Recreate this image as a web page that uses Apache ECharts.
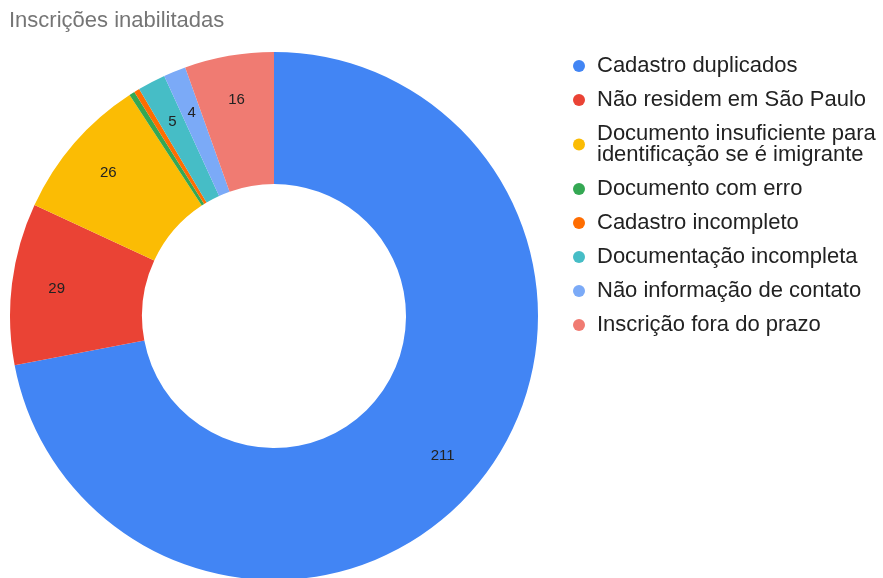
<!DOCTYPE html>
<html lang="pt">
<head>
<meta charset="UTF-8">
<title>Inscrições inabilitadas</title>
<script src="https://cdn.jsdelivr.net/npm/echarts@6/dist/echarts.min.js"></script>
<style>
  html, body { margin: 0; padding: 0; background: #fff; }
  #main { width: 883px; height: 578px; }
</style>
</head>
<body>
<div id="main"></div>
<script>
var categorias = [
  'Cadastro duplicados',
  'Não residem em São Paulo',
  'Documento insuficiente para\nidentificação se é imigrante',
  'Documento com erro',
  'Cadastro incompleto',
  'Documentação incompleta',
  'Não informação de contato',
  'Inscrição fora do prazo'
];
var valores = [211, 29, 26, 1, 1, 5, 4, 16];
var cores = ['#4285F4', '#EA4335', '#FBBC04', '#34A853', '#FF6D01', '#46BDC6', '#7BAAF7', '#F07B72'];

var dados = [];
for (var i = 0; i < categorias.length; i++) {
  dados.push({ name: categorias[i], value: valores[i], itemStyle: { color: cores[i] } });
}

var fonte = '"Liberation Sans", Arial, sans-serif';
var myChart = echarts.init(document.getElementById('main'));

var option = {
  animation: false,
  title: {
    text: 'Inscrições inabilitadas',
    left: 9,
    top: 10,
    padding: 0,
    textStyle: { color: '#757575', fontSize: 22, fontWeight: 'normal', fontFamily: fonte }
  },
  legend: {
    orient: 'vertical',
    left: 573,
    top: 55,
    padding: 0,
    icon: 'circle',
    itemWidth: 12,
    itemHeight: 12,
    itemGap: 12,
    data: categorias,
    textStyle: { color: '#222', fontSize: 22, lineHeight: 21, padding: [0, 0, 0, 7], fontFamily: fonte }
  },
  series: [{
    name: 'fatias',
    type: 'pie',
    center: [274, 316],
    radius: [132, 264],
    startAngle: 90,
    clockwise: true,
    avoidLabelOverlap: false,
    label: { show: false },
    labelLine: { show: false },
    emphasis: { scale: false },
    data: dados
  }, {
    // mesma série, só para posicionar os rótulos um pouco mais para fora
    name: 'rotulos',
    type: 'pie',
    center: [274, 316],
    radius: [168, 264],
    startAngle: 90,
    clockwise: true,
    silent: true,
    avoidLabelOverlap: false,
    itemStyle: { color: 'transparent' },
    label: {
      show: true,
      position: 'inside',
      color: '#222',
      fontSize: 15,
      fontFamily: fonte,
      formatter: function (p) { return p.value >= 4 ? p.value : ''; }
    },
    labelLine: { show: false },
    data: categorias.map(function (c, i) { return { name: c, value: valores[i] }; })
  }]
};
myChart.setOption(option);
</script>
</body>
</html>
